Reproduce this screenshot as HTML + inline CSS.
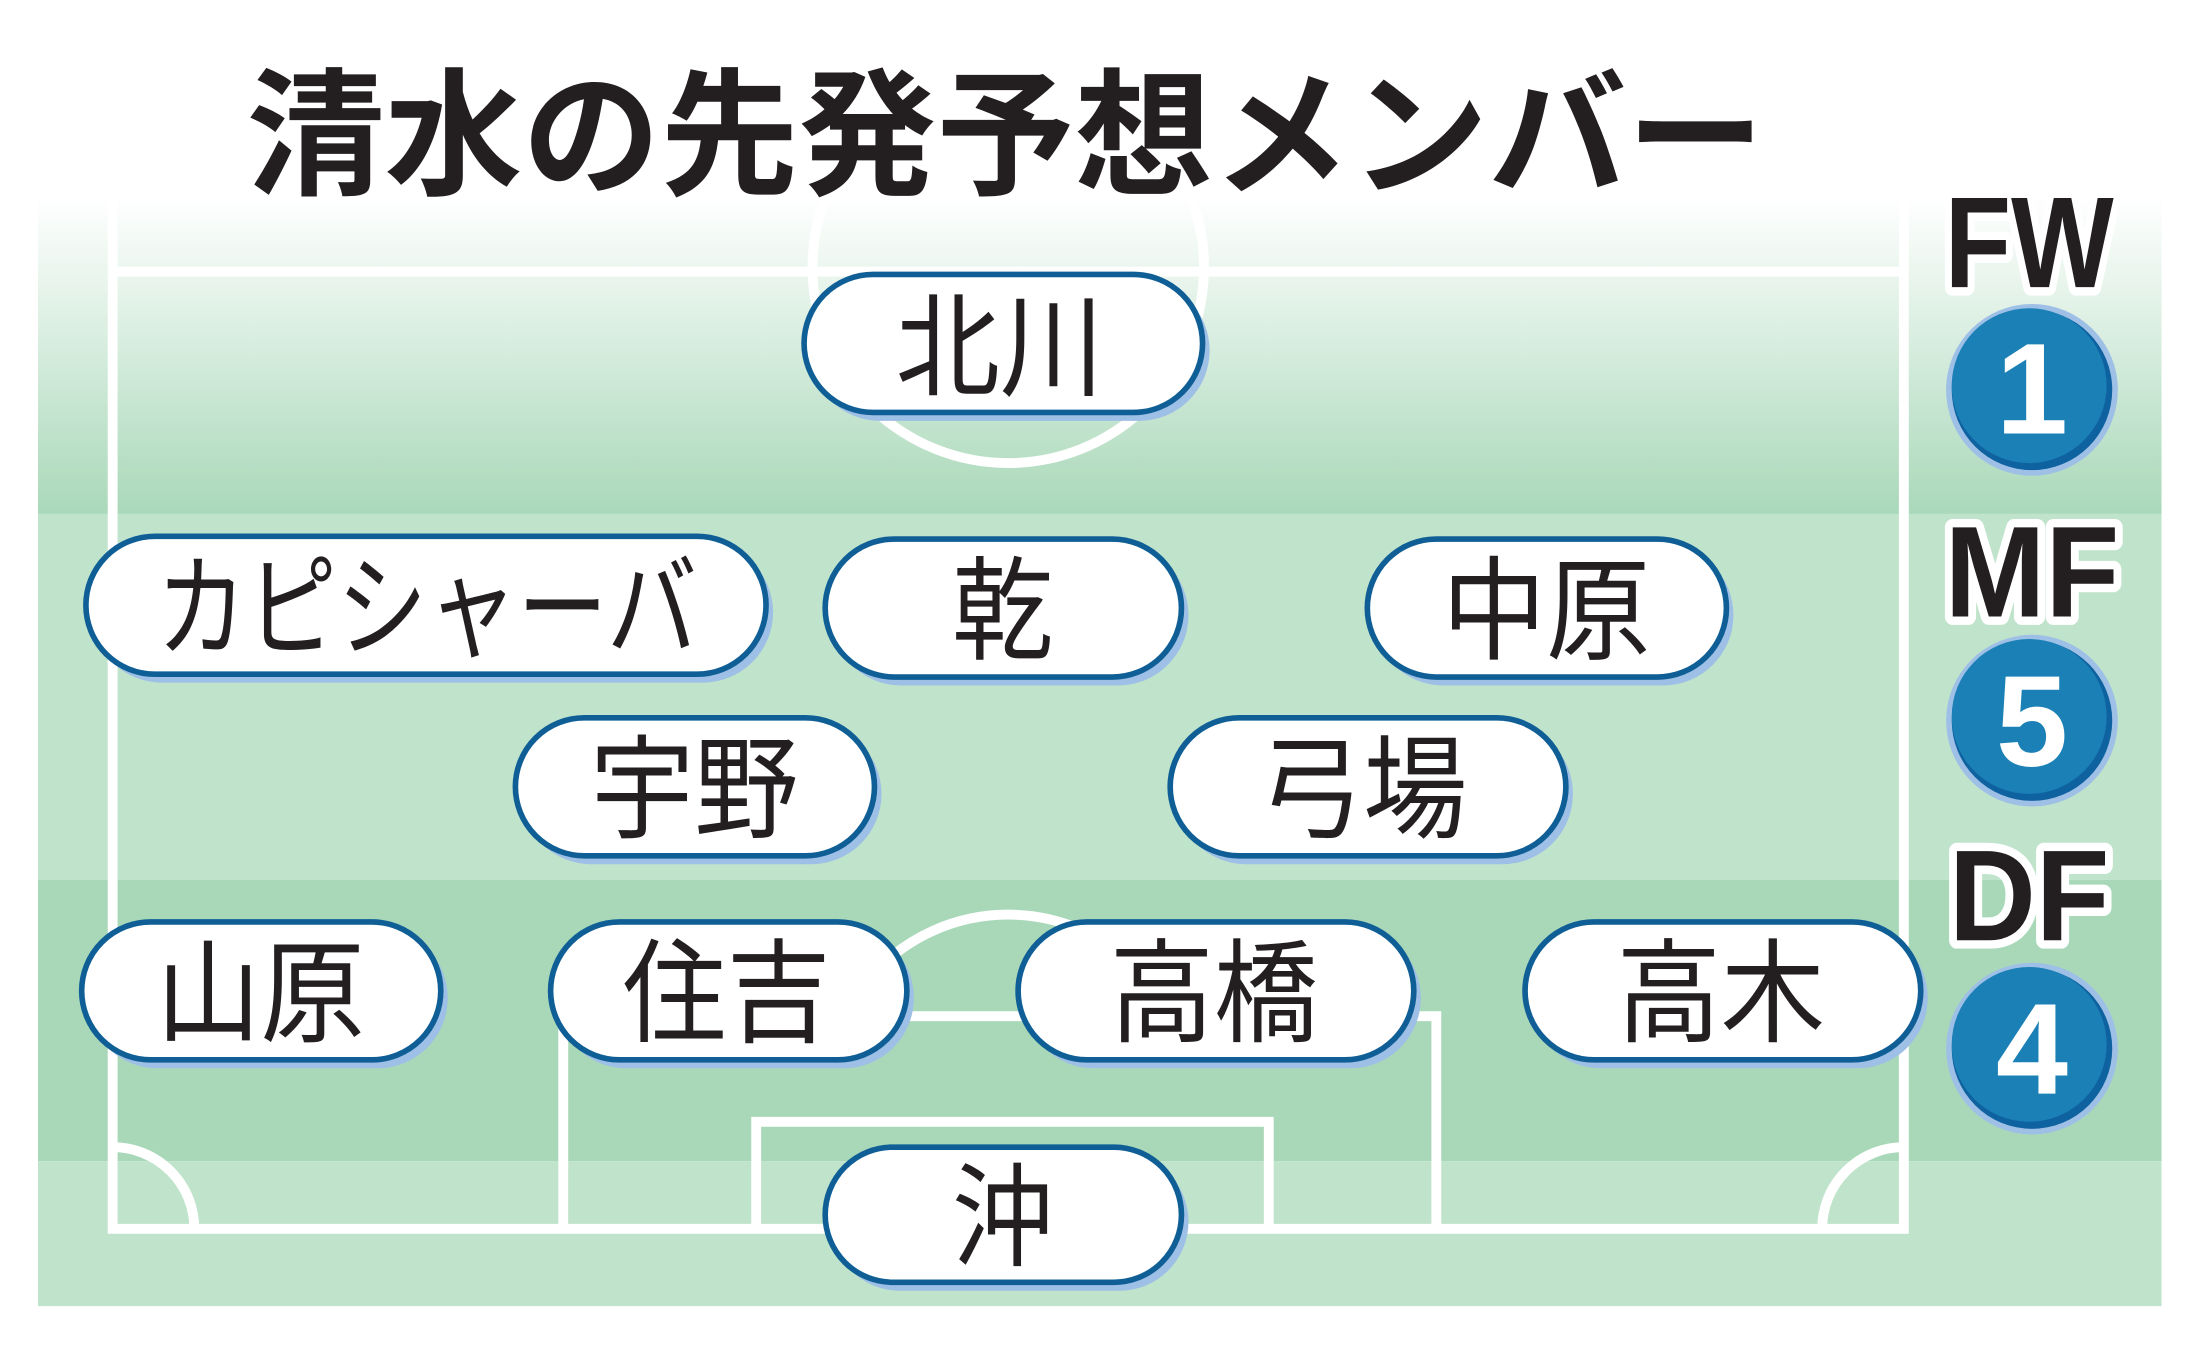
<!DOCTYPE html>
<html><head><meta charset="utf-8"><style>
html,body{margin:0;padding:0;background:#fff;}
svg{display:block}
</style></head><body>
<svg width="2208" height="1347" viewBox="0 0 1568 957" preserveAspectRatio="none" xmlns="http://www.w3.org/2000/svg">
<defs>
<linearGradient id="top" x1="0" y1="0" x2="0" y2="1">
<stop offset="0" stop-color="#ffffff"/><stop offset="1" stop-color="#a9d8b9"/>
</linearGradient>
</defs>
<rect width="1568" height="957" fill="#fff"/>
<rect x="27" y="140" width="1508" height="226" fill="url(#top)"/>
<rect x="27" y="365" width="1508" height="260" fill="#c0e3cb"/>
<rect x="27" y="625" width="1508" height="200" fill="#a9d8b9"/>
<rect x="27" y="825" width="1508" height="103" fill="#c0e3cb"/>
<g fill="none" stroke="#fff" stroke-width="7">
<path d="M80 140 V873 H1352 V140"/>
<line x1="80" y1="193" x2="1352" y2="193"/>
<path d="M400 873 V722 H1020 V873"/>
<path d="M537 873 V797 H901 V873"/>
<path d="M622 690 A130 130 0 0 1 810 690"/>
<path d="M80 815 A58 58 0 0 1 138 873"/>
<path d="M1294 873 A58 58 0 0 1 1352 815"/>
</g>
<circle cx="716" cy="190" r="139" fill="none" stroke="#fff" stroke-width="7"/>
<text x="175" y="131" font-family="Liberation Sans, 'Noto Sans CJK JP', sans-serif" font-weight="700" font-size="98" fill="#231f20" textLength="1078" lengthAdjust="spacingAndGlyphs">清水の先発予想メンバー</text>
<g font-family="Liberation Sans, 'Noto Sans CJK JP', sans-serif" font-weight="700" font-size="92" fill="#231f20" stroke="#fff" stroke-width="12" paint-order="stroke" stroke-linejoin="round" text-anchor="middle">
<text x="1441" y="204" textLength="120" lengthAdjust="spacingAndGlyphs">FW</text>
<text x="1443" y="438" textLength="124" lengthAdjust="spacingAndGlyphs">MF</text>
<text x="1441" y="668" textLength="114" lengthAdjust="spacingAndGlyphs">DF</text>
</g>
<g font-family="Liberation Sans, sans-serif" font-weight="700" font-size="92" fill="#fff" text-anchor="middle">
<g><circle cx="1443" cy="277" r="61" fill="#9fc0e6"/><circle cx="1443" cy="277" r="57" fill="#0f62a0"/><circle cx="1441" cy="274" r="55" fill="#1b80b6"/><text x="1443" y="308">1</text></g>
<g><circle cx="1443" cy="512" r="61" fill="#9fc0e6"/><circle cx="1443" cy="512" r="57" fill="#0f62a0"/><circle cx="1441" cy="509" r="55" fill="#1b80b6"/><text x="1443" y="544">5</text></g>
<g><circle cx="1443" cy="745" r="61" fill="#9fc0e6"/><circle cx="1443" cy="745" r="57" fill="#0f62a0"/><circle cx="1441" cy="742" r="55" fill="#1b80b6"/><text x="1443" y="777">4</text></g>
</g>
<g font-family="Liberation Sans, 'Noto Sans CJK JP', sans-serif" font-weight="400" font-size="80" fill="#231f20" text-anchor="middle">
<g>
<rect x="575" y="199" width="284" height="100" rx="50" fill="#9ebfe6"/>
<rect x="571" y="195" width="283" height="98" rx="49" fill="#fff" stroke="#0f5f96" stroke-width="4"/>
<text x="710" y="275" textLength="148" lengthAdjust="spacingAndGlyphs">北川</text>
</g>
<g>
<rect x="65" y="385" width="484" height="100" rx="50" fill="#9ebfe6"/>
<rect x="61" y="381" width="483" height="98" rx="49" fill="#fff" stroke="#0f5f96" stroke-width="4"/>
<text x="303" y="460" textLength="384" lengthAdjust="spacingAndGlyphs">カピシャーバ</text>
</g>
<g>
<rect x="590" y="387" width="254" height="100" rx="50" fill="#9ebfe6"/>
<rect x="586" y="383" width="253" height="98" rx="49" fill="#fff" stroke="#0f5f96" stroke-width="4"/>
<text x="712" y="462" textLength="72" lengthAdjust="spacingAndGlyphs">乾</text>
</g>
<g>
<rect x="975" y="387" width="256" height="100" rx="50" fill="#9ebfe6"/>
<rect x="971" y="383" width="255" height="98" rx="49" fill="#fff" stroke="#0f5f96" stroke-width="4"/>
<text x="1098" y="462" textLength="148" lengthAdjust="spacingAndGlyphs">中原</text>
</g>
<g>
<rect x="370" y="514" width="256" height="100" rx="50" fill="#9ebfe6"/>
<rect x="366" y="510" width="255" height="98" rx="49" fill="#fff" stroke="#0f5f96" stroke-width="4"/>
<text x="493" y="589" textLength="148" lengthAdjust="spacingAndGlyphs">宇野</text>
</g>
<g>
<rect x="835" y="514" width="282" height="100" rx="50" fill="#9ebfe6"/>
<rect x="831" y="510" width="281" height="98" rx="49" fill="#fff" stroke="#0f5f96" stroke-width="4"/>
<text x="968" y="589" textLength="148" lengthAdjust="spacingAndGlyphs">弓場</text>
</g>
<g>
<rect x="62" y="659" width="256" height="100" rx="50" fill="#9ebfe6"/>
<rect x="58" y="655" width="255" height="98" rx="49" fill="#fff" stroke="#0f5f96" stroke-width="4"/>
<text x="185" y="734" textLength="148" lengthAdjust="spacingAndGlyphs">山原</text>
</g>
<g>
<rect x="395" y="659" width="254" height="100" rx="50" fill="#9ebfe6"/>
<rect x="391" y="655" width="253" height="98" rx="49" fill="#fff" stroke="#0f5f96" stroke-width="4"/>
<text x="516" y="734" textLength="148" lengthAdjust="spacingAndGlyphs">住吉</text>
</g>
<g>
<rect x="727" y="659" width="282" height="100" rx="50" fill="#9ebfe6"/>
<rect x="723" y="655" width="281" height="98" rx="49" fill="#fff" stroke="#0f5f96" stroke-width="4"/>
<text x="862" y="734" textLength="148" lengthAdjust="spacingAndGlyphs">高橋</text>
</g>
<g>
<rect x="1087" y="659" width="282" height="100" rx="50" fill="#9ebfe6"/>
<rect x="1083" y="655" width="281" height="98" rx="49" fill="#fff" stroke="#0f5f96" stroke-width="4"/>
<text x="1222" y="734" textLength="148" lengthAdjust="spacingAndGlyphs">高木</text>
</g>
<g>
<rect x="590" y="819" width="254" height="98" rx="49" fill="#9ebfe6"/>
<rect x="586" y="815" width="253" height="96" rx="48" fill="#fff" stroke="#0f5f96" stroke-width="4"/>
<text x="712" y="893" textLength="72" lengthAdjust="spacingAndGlyphs">沖</text>
</g>
</g>
</svg>
</body></html>
